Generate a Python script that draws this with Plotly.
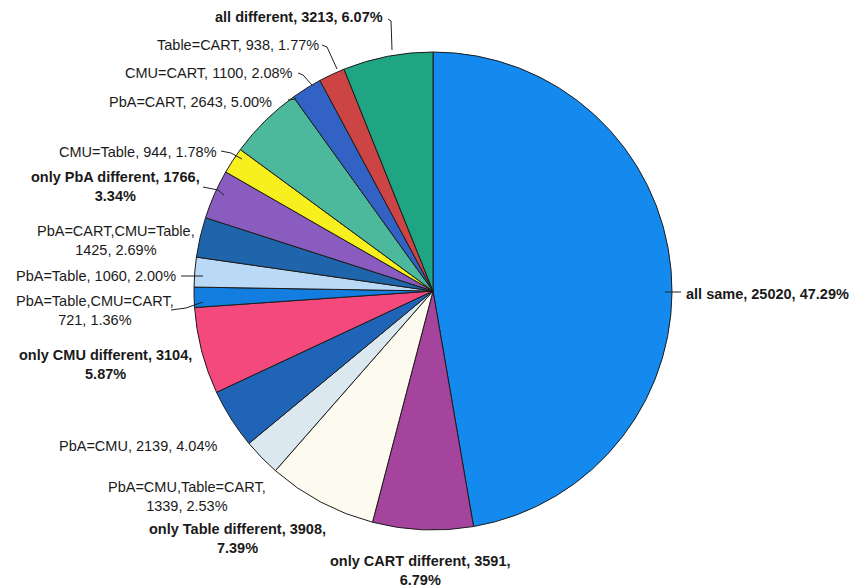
import plotly.graph_objects as go

# Agreement categories between the four methods (clockwise from 12 o'clock)
categories = [
    "all same", "only CART different", "only Table different",
    "PbA=CMU,Table=CART", "PbA=CMU", "only CMU different",
    "PbA=Table,CMU=CART", "PbA=Table", "PbA=CART,CMU=Table",
    "only PbA different", "CMU=Table", "PbA=CART", "CMU=CART",
    "Table=CART", "all different",
]
counts = [25020, 3591, 3908, 1339, 2139, 3104, 721, 1060, 1425, 1766,
          944, 2643, 1100, 938, 3213]
percent_labels = ["47.29%", "6.79%", "7.39%", "2.53%", "4.04%", "5.87%",
                  "1.36%", "2.00%", "2.69%", "3.34%", "1.78%", "5.00%",
                  "2.08%", "1.77%", "6.07%"]
bold_categories = {"all same", "only CART different", "only Table different",
                   "only CMU different", "only PbA different", "all different"}

slice_colors = ["#1489ee", "#a4449c", "#fdfbf0", "#dbe8ef", "#1f64b6",
                "#f4497c", "#137ee0", "#b9d9f7", "#1e65ab", "#8a5cc0",
                "#f8ef1e", "#4cb89c", "#3262c4", "#cc4444", "#1fa584"]

W, H = 853, 587


def px(x):
    return x / W


def py(y):
    return 1 - y / H


fig = go.Figure(go.Pie(
    labels=categories,
    values=counts,
    sort=False,
    direction="clockwise",
    rotation=0,
    textinfo="none",
    hoverinfo="label+value+percent",
    marker=dict(colors=slice_colors, line=dict(color="#1c1c1c", width=1)),
    domain=dict(x=[px(194), px(672)], y=[py(532), py(50)]),
    showlegend=False,
))

# label layout: centre x, centre y, where the line breaks
# (None = single line, "count" = after the count, "cat" = after the category)
label_layout = {
    "all different": (299, 17, None),
    "Table=CART": (238, 45, None),
    "CMU=CART": (209, 73, None),
    "PbA=CART": (190, 102, None),
    "CMU=Table": (138, 152, None),
    "only PbA different": (115, 186, "count"),
    "PbA=CART,CMU=Table": (116, 240, "cat"),
    "PbA=Table": (96, 276, None),
    "PbA=Table,CMU=CART": (95, 310, "cat"),
    "only CMU different": (105, 364, "count"),
    "PbA=CMU": (138, 446, None),
    "PbA=CMU,Table=CART": (187, 496, "cat"),
    "only Table different": (237, 538, "count"),
    "only CART different": (420, 570, "count"),
    "all same": (767, 294, None),
}

annotations = []
for cat, n, pct in zip(categories, counts, percent_labels):
    cx, cy, brk = label_layout[cat]
    if brk == "count":
        text = f"{cat}, {n},<br>{pct}"
    elif brk == "cat":
        text = f"{cat},<br>{n}, {pct}"
    else:
        text = f"{cat}, {n}, {pct}"
    if cat in bold_categories:
        text = f"<b>{text}</b>"
    annotations.append(dict(
        x=px(cx), y=py(cy), xref="paper", yref="paper",
        text=text, showarrow=False, align="center",
        font=dict(family="Liberation Sans, Arial, sans-serif", size=14.5,
                  color="#1a1a1a"),
        xanchor="center", yanchor="middle",
    ))

# leader lines from labels to slices
leaders = [
    [(388, 19), (391, 21), (392, 50)],
    [(322, 45), (327, 47), (337, 69)],
    [(298, 73), (303, 75), (312, 85)],
    [(288, 100), (296, 99)],
    [(221, 151), (231, 153), (242, 159)],
    [(203, 187), (218, 190), (224, 195)],
    [(181, 276), (203, 276)],
    [(171, 310), (186, 308), (203, 302)],
    [(665, 292), (681, 292)],
]
shapes = []
for pts in leaders:
    path = "M " + " L ".join(f"{px(x)} {py(y)}" for x, y in pts)
    shapes.append(dict(type="path", path=path, xref="paper", yref="paper",
                       line=dict(color="#222222", width=1)))

fig.update_layout(
    width=W, height=H,
    margin=dict(l=0, r=0, t=0, b=0),
    paper_bgcolor="white",
    plot_bgcolor="white",
    annotations=annotations,
    shapes=shapes,
)

fig.write_html("out.html")
